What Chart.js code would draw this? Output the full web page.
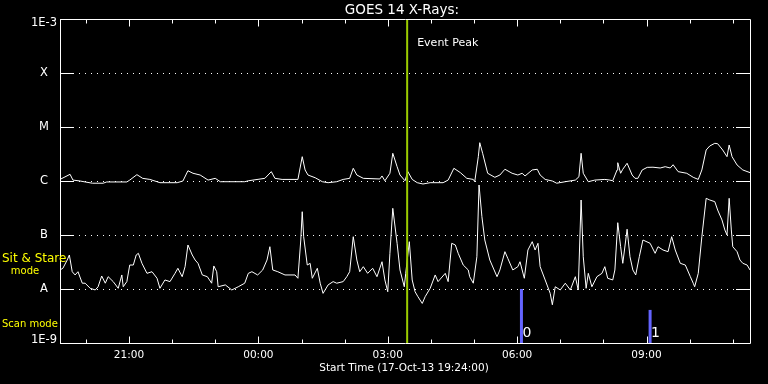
<!DOCTYPE html>
<html>
<head>
<meta charset="utf-8">
<script src="https://cdn.jsdelivr.net/npm/chart.js@4/dist/chart.umd.min.js"></script>
<style>
html,body{margin:0;padding:0;background:#000;}
#wrap{width:768px;height:384px;}
</style>
</head>
<body>
<div id="wrap"><canvas id="c" width="768" height="384"></canvas></div>
<script>
// ---- Data (time in minutes after start 17-Oct-13 19:24:00, flux in W/m^2) ----
const titleText = "GOES 14 X-Rays:";
const axisTitle = "Start Time (17-Oct-13 19:24:00)";
const timeMin = 0, timeMax = 960;

const yTickValues = [1e-9, 1e-8, 1e-7, 1e-6, 1e-5, 1e-4, 1e-3];
const yTickLabels = ["1E-9", "A", "B", "C", "M", "X", "1E-3"];

const xTickMinutes = [36, 96, 156, 216, 276, 336, 396, 456, 516, 576, 636, 696, 756, 816, 876, 936];
const xTickLabels  = ["", "21:00", "", "", "00:00", "", "", "03:00", "", "", "06:00", "", "", "09:00", "", ""];

// Long channel (1-8 A)
const longTime = [0,14,18,28,35,45,60,65,93,97,107,115,125,135,139,163,171,178,185,195,206,216,223,257,262,285,294,299,309,331,337,341,345,355,365,373,385,394,403,408,413,422,445,448,452,459,463,469,473,480,484,490,497,505,515,533,540,548,557,566,575,577,582,584,588,595,605,612,619,629,637,643,647,657,664,668,675,685,691,703,717,722,725,728,735,744,758,765,769,775,776,780,783,789,796,800,804,810,817,825,835,842,849,853,860,872,881,888,893,899,904,911,915,922,928,931,935,942,950,960];
const longFlux = [1.07e-6,1.33e-6,1.04e-6,1.0e-6,0.96e-6,0.91e-6,0.91e-6,0.96e-6,0.96e-6,1.04e-6,
1.31e-6,1.12e-6,1.07e-6,0.97e-6,0.93e-6,0.93e-6,1.0e-6,1.55e-6,1.39e-6,1.29e-6,
1.04e-6,1.12e-6,0.97e-6,0.97e-6,1.01e-6,1.12e-6,1.49e-6,1.12e-6,1.07e-6,1.07e-6,
2.82e-6,1.60e-6,1.29e-6,1.15e-6,0.97e-6,0.93e-6,0.97e-6,1.07e-6,1.12e-6,1.72e-6,
1.29e-6,1.12e-6,1.09e-6,1.24e-6,1.01e-6,1.39e-6,3.26e-6,1.84e-6,1.29e-6,1.01e-6,
1.49e-6,1.07e-6,0.93e-6,0.88e-6,0.93e-6,0.93e-6,1.04e-6,1.72e-6,1.43e-6,1.12e-6,
1.07e-6,0.97e-6,2.82e-6,5.12e-6,3.26e-6,1.39e-6,1.17e-6,1.29e-6,1.65e-6,1.39e-6,
1.29e-6,1.39e-6,1.24e-6,1.60e-6,1.65e-6,1.29e-6,1.07e-6,1.0e-6,0.91e-6,0.97e-6,
1.04e-6,1.20e-6,3.26e-6,1.39e-6,0.97e-6,1.04e-6,1.07e-6,1.04e-6,1.01e-6,1.60e-6,
2.18e-6,1.39e-6,1.65e-6,2.13e-6,1.29e-6,1.12e-6,1.12e-6,1.60e-6,1.79e-6,1.80e-6,
1.74e-6,1.84e-6,1.74e-6,2.0e-6,1.49e-6,1.39e-6,1.17e-6,1.07e-6,1.60e-6,3.75e-6,
4.45e-6,4.99e-6,4.9e-6,3.75e-6,2.82e-6,4.64e-6,2.82e-6,1.98e-6,1.60e-6,1.43e-6];

// Short channel (0.5-4 A)
const shortTime = [0,4,10,13,17,21,25,31,35,42,49,53,58,63,67,74,81,86,88,93,97,102,106,109,114,121,128,135,139,146,153,160,164,170,174,178,184,188,192,198,205,211,214,218,220,230,239,248,257,262,267,275,282,288,292,296,303,313,327,331,335,337,339,344,348,351,358,362,366,373,380,385,394,399,403,408,413,417,422,428,435,441,448,452,456,459,463,469,473,479,481,486,490,494,498,504,508,515,522,526,536,540,545,550,554,561,568,570,575,580,583,587,591,598,608,612,619,623,630,637,640,646,651,657,661,665,668,675,682,685,689,696,703,710,717,721,725,728,732,735,740,747,754,758,762,769,772,776,780,783,789,793,797,801,806,811,821,828,832,839,846,851,856,863,870,877,881,883,888,893,899,904,911,915,921,925,928,931,934,936,942,946,950,956,960];
const shortFlux = [2.25e-8,2.42e-8,3.44e-8,4.26e-8,2.09e-8,1.82e-8,2.09e-8,1.28e-8,1.28e-8,1.03e-8,
0.96e-8,1.10e-8,1.74e-8,1.28e-8,1.69e-8,1.37e-8,1.03e-8,1.82e-8,1.10e-8,1.37e-8,
2.78e-8,2.78e-8,4.26e-8,4.58e-8,2.99e-8,1.95e-8,2.09e-8,1.58e-8,1.03e-8,1.47e-8,
1.37e-8,1.95e-8,2.42e-8,1.69e-8,2.59e-8,6.53e-8,4.26e-8,3.44e-8,2.99e-8,1.82e-8,
1.69e-8,1.28e-8,2.67e-8,2.09e-8,1.10e-8,1.19e-8,0.96e-8,1.10e-8,1.28e-8,1.95e-8,
2.09e-8,1.82e-8,2.25e-8,3.44e-8,6.07e-8,2.25e-8,2.09e-8,1.82e-8,1.82e-8,1.58e-8,
8.08e-8,2.70e-7,9.3e-8,2.78e-8,2.99e-8,1.58e-8,2.42e-8,1.28e-8,0.83e-8,1.19e-8,
1.37e-8,1.28e-8,1.37e-8,1.69e-8,2.09e-8,9.3e-8,3.44e-8,2.09e-8,2.59e-8,1.95e-8,
2.42e-8,1.69e-8,3.2e-8,1.47e-8,0.89e-8,4.58e-8,3.12e-7,7.02e-8,2.25e-8,1.10e-8,
1.95e-8,7.52e-8,1.47e-8,0.89e-8,0.72e-8,0.54e-8,0.72e-8,1.03e-8,1.82e-8,1.37e-8,
1.95e-8,1.37e-8,7.02e-8,6.53e-8,4.58e-8,2.78e-8,2.25e-8,1.69e-8,1.28e-8,3.96e-8,
8.43e-7,2.18e-7,8.08e-8,3.44e-8,1.69e-8,2.25e-8,4.91e-8,3.7e-8,2.25e-8,2.59e-8,
3.2e-8,1.58e-8,5.27e-8,7.52e-8,5.27e-8,7.02e-8,2.59e-8,1.47e-8,0.83e-8,0.51e-8,
1.10e-8,0.96e-8,1.28e-8,0.96e-8,1.69e-8,0.96e-8,4.45e-7,3.96e-8,1.03e-8,1.95e-8,
1.10e-8,1.69e-8,1.95e-8,2.59e-8,1.58e-8,1.47e-8,2.25e-8,1.69e-7,6.07e-8,2.99e-8,
1.28e-7,3.96e-8,2.25e-8,1.82e-8,3.96e-8,8.08e-8,7.02e-8,4.58e-8,6.07e-8,5.27e-8,
4.91e-8,9.3e-8,5.27e-8,2.99e-8,2.78e-8,1.69e-8,1.28e-8,1.10e-8,1.95e-8,9.3e-8,
4.78e-7,4.45e-7,4.14e-7,2.9e-7,1.90e-7,1.24e-7,1.0e-7,4.78e-7,1.24e-7,6.07e-8,
4.91e-8,3.44e-8,2.99e-8,2.78e-8,2.25e-8];

// Event peak marker and scan-mode markers
const eventPeakTime = 483;
const eventPeakLabel = "Event Peak";
const scanTimes = [642, 821];
const scanLevels = [1.0e-8, 4.1e-9];
const scanLabels = ["0", "1"];

// ---- build datasets ----
const toPts = (t, v) => t.map((tt, i) => ({x: tt, y: v[i]}));
const datasets = [
  {data: [{x: eventPeakTime, y: 1e-9}, {x: eventPeakTime, y: 1e-3}], borderColor: '#9ccc00', borderWidth: 2, order: 0},
  {data: toPts(longTime, longFlux), borderColor: '#ffffff', borderWidth: 1, order: 2},
  {data: toPts(shortTime, shortFlux), borderColor: '#ffffff', borderWidth: 1, order: 2}
];
scanTimes.forEach((t, i) => {
  datasets.push({data: [{x: t, y: 1e-9}, {x: t, y: scanLevels[i]}], borderColor: '#6464ff', borderWidth: 3, borderCapStyle: 'butt', order: 1});
});

const FONT = '"DejaVu Sans", "Liberation Sans", sans-serif';

const idlFrame = {
  id: 'idlFrame',
  beforeDraw(chart) {
    const ctx = chart.ctx;
    ctx.save();
    ctx.fillStyle = '#000';
    ctx.fillRect(0, 0, chart.width, chart.height);
    ctx.restore();
  },
  beforeDatasetsDraw(chart) {
    const {ctx, chartArea: a, scales: {y}} = chart;
    ctx.save();
    ctx.strokeStyle = '#ffffff';
    ctx.lineWidth = 1;
    ctx.setLineDash([1, 5]);
    yTickValues.forEach(v => {
      if (v === yTickValues[0] || v === yTickValues[yTickValues.length - 1]) return;
      const py = Math.round(y.getPixelForValue(v)) + 0.5;
      ctx.beginPath();
      ctx.moveTo(a.left + 19, py);
      ctx.lineTo(a.right - 15, py);
      ctx.stroke();
    });
    ctx.restore();
  },
  afterDraw(chart) {
    const {ctx, chartArea: a, scales: {x, y}} = chart;
    ctx.save();
    ctx.strokeStyle = '#ffffff';
    ctx.lineWidth = 1;
    ctx.setLineDash([]);
    // frame
    const L = a.left + 0.5, R = a.right + 0.5, T = a.top + 0.5, B = a.bottom + 0.5;
    ctx.beginPath();
    ctx.moveTo(L, T); ctx.lineTo(R, T); ctx.lineTo(R, B); ctx.lineTo(L, B); ctx.closePath();
    ctx.stroke();
    // y major ticks
    yTickValues.forEach(v => {
      const py = Math.round(y.getPixelForValue(v)) + 0.5;
      ctx.beginPath();
      ctx.moveTo(a.left, py); ctx.lineTo(a.left + 14, py);
      ctx.moveTo(a.right - 14, py); ctx.lineTo(a.right, py);
      ctx.stroke();
    });
    // x ticks (top and bottom)
    xTickMinutes.forEach((m, i) => {
      const px = Math.round(x.getPixelForValue(m)) + 0.5;
      const len = xTickLabels[i] ? 7 : 4;
      ctx.beginPath();
      ctx.moveTo(px, B); ctx.lineTo(px, B - len);
      ctx.moveTo(px, T); ctx.lineTo(px, T + len);
      ctx.stroke();
    });
    // texts
    ctx.fillStyle = '#ffffff';
    ctx.textBaseline = 'middle';
    ctx.textAlign = 'center';
    ctx.font = '13.5px ' + FONT;
    ctx.fillText(titleText, (a.left + a.right) / 2 - 3, 10);
    ctx.font = '11.5px ' + FONT;
    yTickValues.forEach((v, i) => {
      let py = y.getPixelForValue(v);
      py = Math.min(Math.max(py, a.top + 4), a.bottom - 3);
      ctx.fillText(yTickLabels[i], 44, py);
    });
    ctx.font = '10.5px ' + FONT;
    xTickMinutes.forEach((m, i) => {
      if (!xTickLabels[i]) return;
      ctx.fillText(xTickLabels[i], x.getPixelForValue(m), 355);
    });
    ctx.fillText(axisTitle, (a.left + a.right) / 2 - 1, 368);
    // event peak label
    ctx.textAlign = 'left';
    ctx.font = '11px ' + FONT;
    ctx.fillText(eventPeakLabel, x.getPixelForValue(eventPeakTime) + 10, 43);
    // scan labels
    ctx.font = '14px ' + FONT;
    scanTimes.forEach((t, i) => {
      ctx.fillText(scanLabels[i], x.getPixelForValue(t) + 1, 333);
    });
    // mode labels
    ctx.fillStyle = '#ffff00';
    ctx.font = '12px ' + FONT;
    ctx.fillText('Sit & Stare', 2, 259);
    ctx.font = '10px ' + FONT;
    ctx.textAlign = 'center';
    ctx.fillText('mode', 25, 271);
    ctx.textAlign = 'left';
    ctx.fillText('Scan mode', 2, 324);
    ctx.restore();
  }
};

new Chart(document.getElementById('c'), {
  type: 'line',
  data: {datasets},
  options: {
    responsive: false,
    animation: false,
    devicePixelRatio: 1,
    layout: {padding: {left: 60, right: 18, top: 19, bottom: 41}},
    scales: {
      x: {type: 'linear', min: timeMin, max: timeMax, display: false},
      y: {type: 'logarithmic', min: 1e-9, max: 1e-3, display: false}
    },
    elements: {point: {radius: 0}, line: {tension: 0, borderJoinStyle: 'miter'}},
    plugins: {legend: {display: false}, tooltip: {enabled: false}, title: {display: false}}
  },
  plugins: [idlFrame]
});
</script>
</body>
</html>
